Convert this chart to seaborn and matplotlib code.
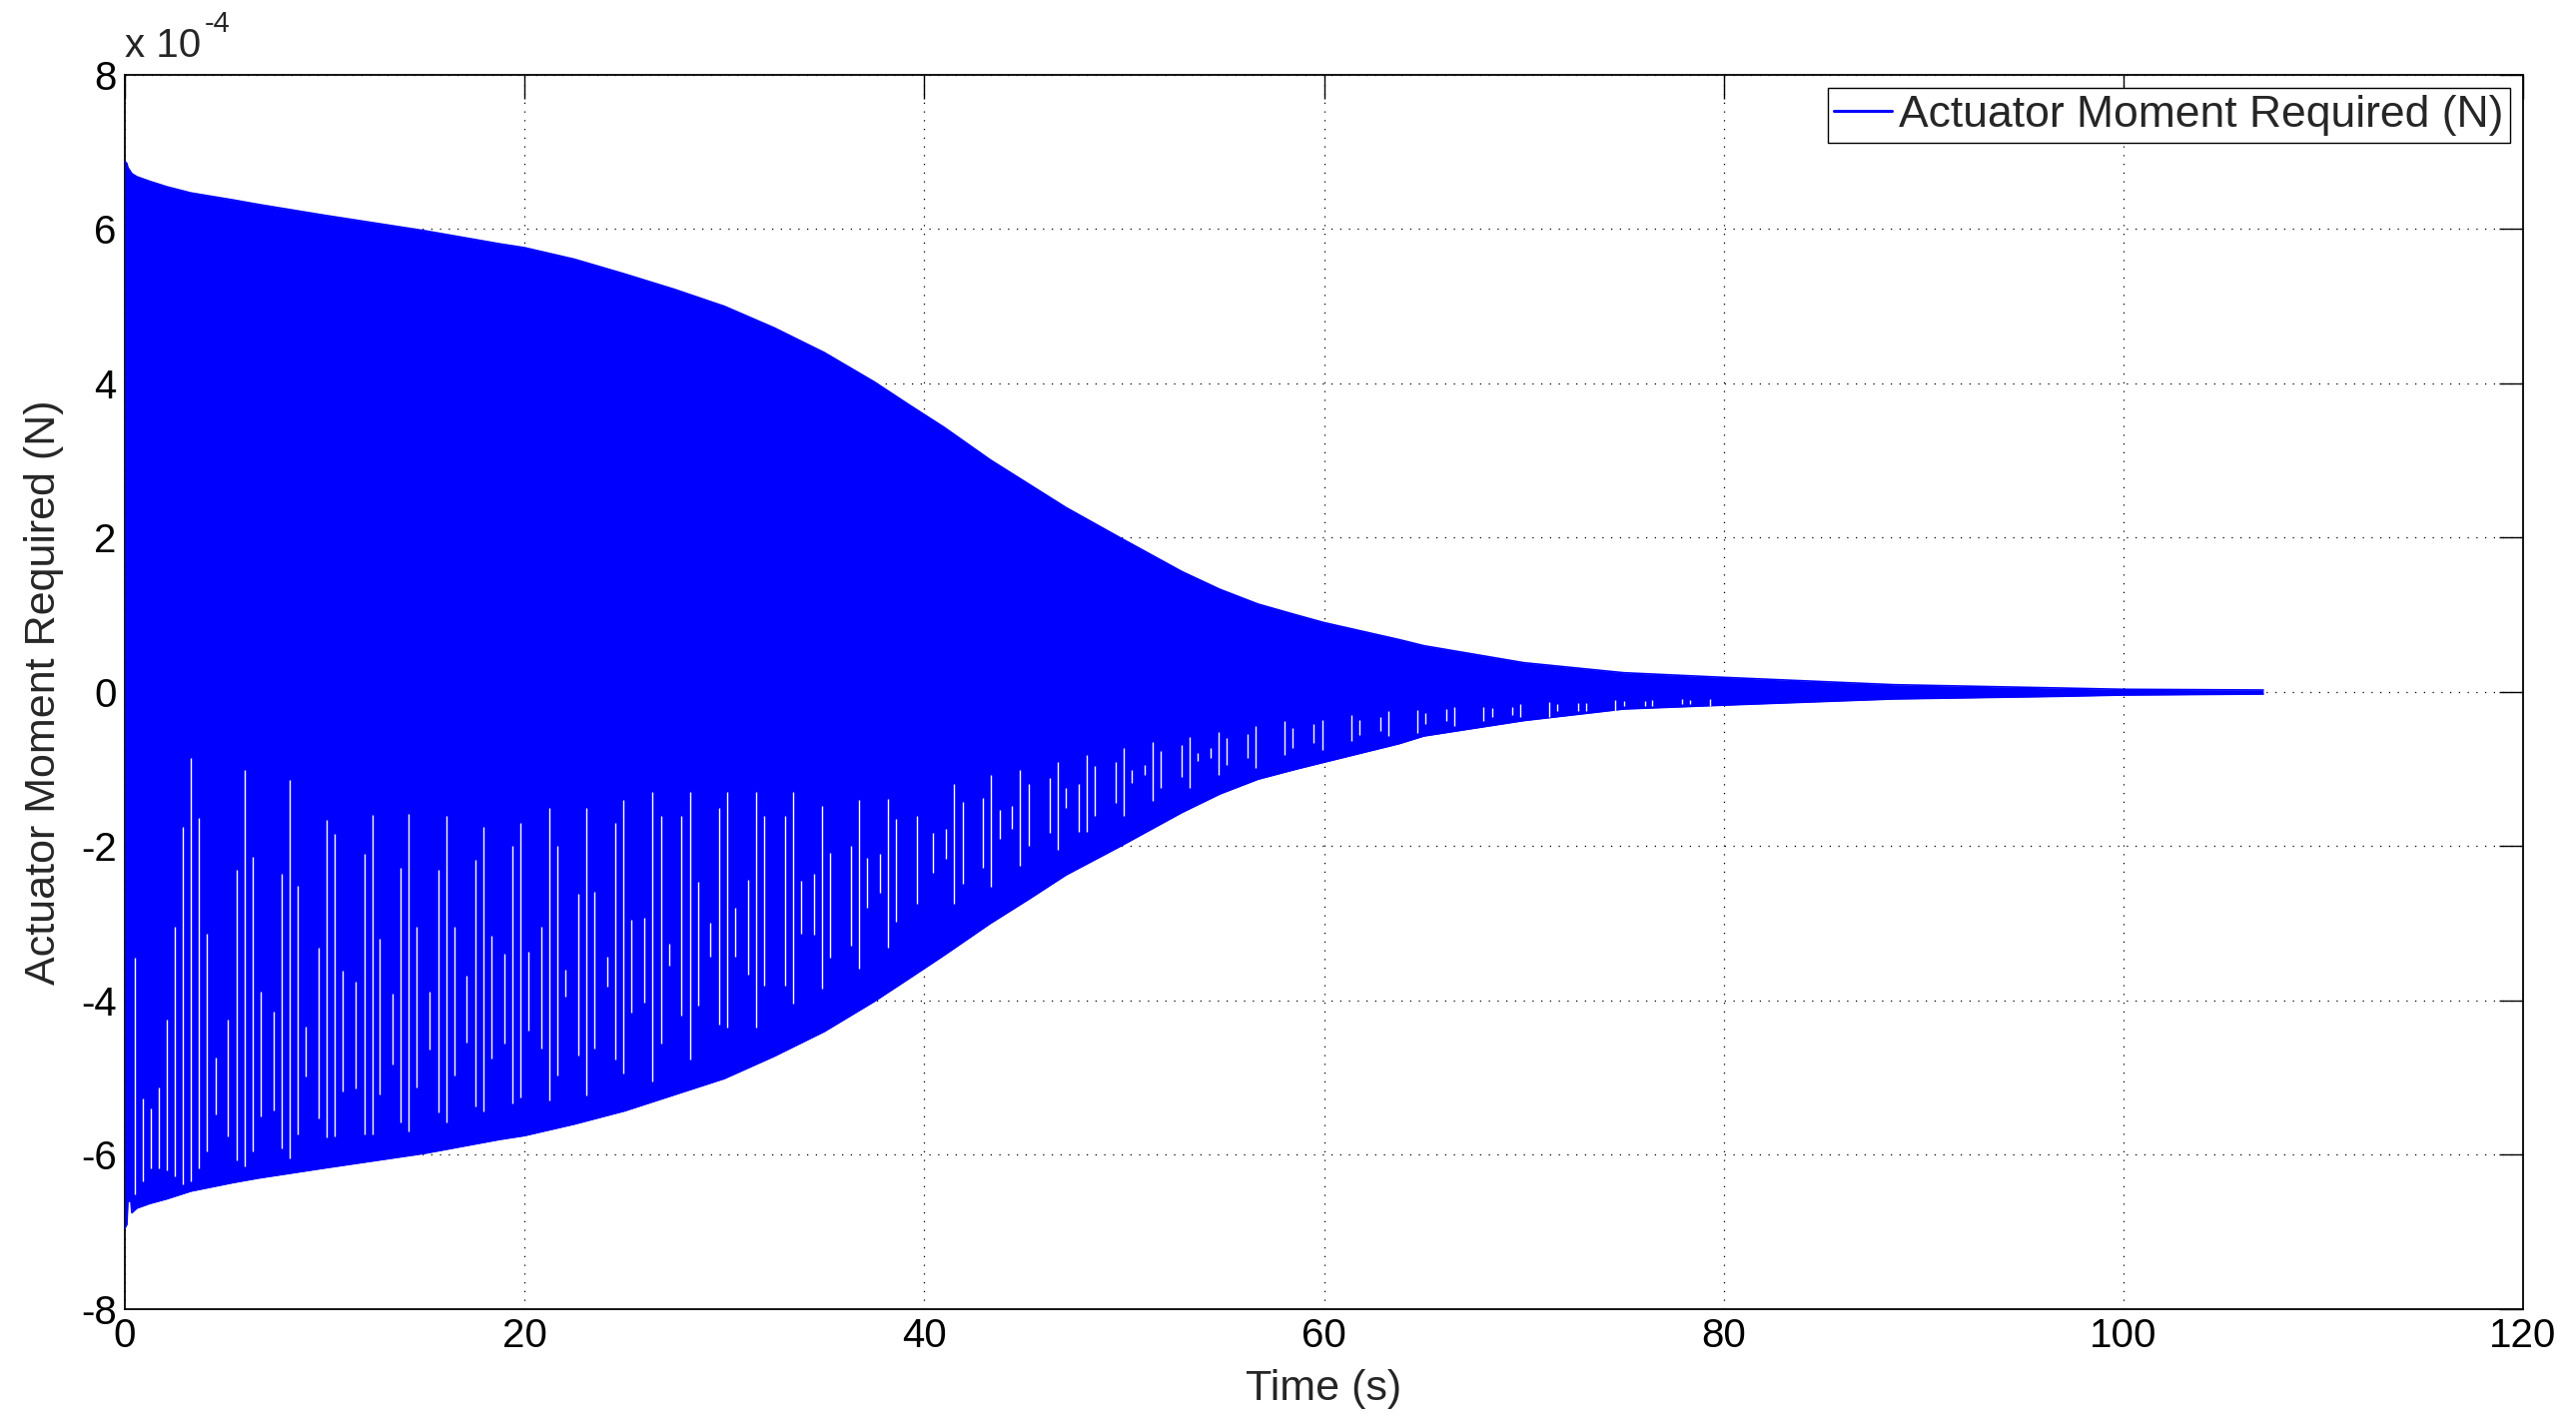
import numpy as np
import pandas as pd
import matplotlib
matplotlib.use("Agg")
import matplotlib.pyplot as plt
import seaborn as sns

#################################################################################
#  envelope of the actuator moment signal (values in units of 1e-4 N)
#################################################################################
time_s = [0, 0.1, 0.15, 0.3, 0.35, 0.6, 1.25, 2.1, 3.3, 5.4, 6.7, 10, 15,
          18.75, 20, 22.5, 25, 27.5, 30, 32.5, 35, 37.5, 39.2, 41, 43.3, 45.2,
          47.1, 49.8, 52.9, 54.8, 56.7, 58.6, 60, 63.75, 65, 70, 75, 80, 88.5,
          96.8, 100, 107]
upper_e4 = [6.88, 6.85, 6.80, 6.74, 6.72, 6.68, 6.62, 6.55, 6.47, 6.38, 6.32,
            6.18, 5.98, 5.81, 5.76, 5.61, 5.42, 5.22, 5.00, 4.72, 4.40, 4.02,
            3.73, 3.43, 3.01, 2.70, 2.39, 2.00, 1.56, 1.33, 1.14, 1.00, 0.90,
            0.68, 0.60, 0.38, 0.25, 0.19, 0.095, 0.052, 0.035, 0.026]
lower_e4 = [-6.95, -6.90, -6.60, -6.60, -6.75, -6.69, -6.63, -6.57, -6.47,
            -6.36, -6.30, -6.17, -5.98, -5.80, -5.75, -5.60, -5.43, -5.22,
            -5.01, -4.72, -4.40, -4.01, -3.72, -3.41, -3.00, -2.69, -2.37,
            -2.00, -1.56, -1.32, -1.13, -1.00, -0.91, -0.67, -0.57, -0.37,
            -0.22, -0.17, -0.09, -0.056, -0.039, -0.026]

#################################################################################
#  white gaps (aliasing) visible in the lower half: time, top, bottom
#################################################################################
gap_t = [0.5, 0.88, 1.3, 1.7, 2.1, 2.5, 2.9, 3.3, 3.72, 4.12, 4.53, 5.17, 5.58,
         5.98, 6.38, 6.8, 7.43, 7.83, 8.25, 8.65, 9.05, 9.7, 10.1, 10.5, 10.9,
         11.55, 11.97, 12.37, 12.73, 13.4, 13.8, 14.2, 14.6, 15.25, 15.67,
         16.1, 16.5, 17.1, 17.53, 17.93, 18.33, 18.98, 19.38, 19.8, 20.2,
         20.83, 21.25, 21.65, 22.05, 22.7, 23.1, 23.5, 24.13, 24.55, 24.95,
         25.35, 26.0, 26.4, 26.82, 27.22, 27.85, 28.27, 28.67, 29.3, 29.72,
         30.12, 30.53, 31.17, 31.57, 31.98, 33.02, 33.43, 33.83, 34.48, 34.9,
         35.28, 36.33, 36.74, 37.14, 37.77, 38.19, 38.59, 39.64, 40.45, 41.1,
         41.5, 41.92, 42.93, 43.35, 43.76, 44.4, 44.8, 45.23, 46.28, 46.68,
         47.09, 47.74, 48.14, 48.54, 49.6, 50.0, 50.4, 51.05, 51.45, 51.85,
         52.88, 53.29, 53.7, 54.34, 54.75, 55.15, 56.2, 56.6, 58.05, 58.45,
         59.5, 59.9, 61.35, 61.75, 62.8, 63.2, 64.67, 65.07, 66.1, 66.5,
         67.98, 68.4, 69.4, 69.8, 71.27, 71.67, 72.7, 73.13, 74.58, 75.0,
         76.05, 76.43, 77.9, 78.3, 79.33]
gap_top = [-3.44, -5.27, -5.40, -5.12, -4.24, -3.04, -1.75, -0.86, -1.63, -3.13,
           -4.74, -4.24, -2.31, -1.01, -2.13, -3.88, -4.14, -2.35, -1.14, -2.51,
           -4.34, -3.31, -1.66, -1.84, -3.61, -3.76, -2.10, -1.59, -3.20, -3.91,
           -2.28, -1.58, -3.04, -3.88, -2.31, -1.61, -3.04, -3.67, -2.18, -1.75,
           -3.16, -3.39, -2.00, -1.70, -3.37, -3.04, -1.50, -2.00, -3.60, -2.61,
           -1.50, -2.59, -3.43, -1.70, -1.40, -2.95, -2.93, -1.30, -1.60, -3.26,
           -1.60, -1.30, -2.46, -2.99, -1.50, -1.30, -2.79, -2.44, -1.30, -1.60,
           -1.60, -1.30, -2.45, -2.35, -1.47, -2.08, -1.99, -1.40, -2.15, -2.10,
           -1.39, -1.64, -1.61, -1.82, -1.78, -1.19, -1.42, -1.37, -1.08, -1.53,
           -1.48, -1.01, -1.19, -1.11, -0.90, -1.24, -1.19, -0.81, -0.96, -0.90,
           -0.72, -1.01, -0.95, -0.65, -0.77, -0.69, -0.58, -0.79, -0.73, -0.52,
           -0.59, -0.55, -0.44, -0.37, -0.46, -0.42, -0.36, -0.30, -0.36, -0.32,
           -0.25, -0.23, -0.27, -0.22, -0.19, -0.19, -0.21, -0.19, -0.15, -0.13,
           -0.16, -0.14, -0.14, -0.11, -0.12, -0.12, -0.11, -0.09, -0.10, -0.09]
gap_bot = [-6.51, -6.34, -6.17, -6.17, -6.20, -6.28, -6.38, -6.34, -6.18, -5.95,
           -5.48, -5.76, -6.07, -6.15, -5.95, -5.50, -5.43, -5.91, -6.05, -5.74,
           -4.99, -5.53, -5.77, -5.76, -5.18, -5.14, -5.74, -5.74, -5.22, -4.83,
           -5.58, -5.69, -5.12, -4.63, -5.45, -5.58, -4.97, -4.55, -5.37, -5.44,
           -4.75, -4.56, -5.33, -5.25, -4.39, -4.62, -5.29, -4.97, -3.95, -4.71,
           -5.23, -4.62, -3.82, -4.77, -4.94, -4.16, -4.03, -5.05, -4.56, -3.55,
           -4.20, -4.77, -4.06, -3.43, -4.31, -4.35, -3.43, -3.66, -4.35, -3.81,
           -3.81, -4.04, -3.13, -3.15, -3.84, -3.44, -3.29, -3.58, -2.79, -2.60,
           -3.32, -2.98, -2.75, -2.34, -2.16, -2.75, -2.48, -2.28, -2.52, -1.90,
           -1.77, -2.25, -2.00, -1.83, -2.04, -1.50, -1.81, -1.81, -1.60, -1.44,
           -1.60, -1.18, -1.08, -1.41, -1.24, -1.10, -1.24, -0.89, -0.85, -1.08,
           -0.95, -0.85, -0.98, -0.82, -0.72, -0.66, -0.75, -0.63, -0.56, -0.50,
           -0.57, -0.53, -0.42, -0.37, -0.44, -0.37, -0.32, -0.30, -0.33, -0.32,
           -0.25, -0.24, -0.25, -0.25, -0.18, -0.18, -0.18, -0.16, -0.15, -0.18]

x_ticks = [0, 20, 40, 60, 80, 100, 120]
y_ticks = [-8, -6, -4, -2, 0, 2, 4, 6, 8]

sns.set_style("white")
plt.rcParams['font.family'] = ['Liberation Sans', 'DejaVu Sans']
plt.rcParams['axes.unicode_minus'] = False

fig = plt.figure(figsize=(25.79, 14.26), dpi=100)
ax = fig.add_axes([0.04847, 0.08065, 0.93098, 0.86676])

df = pd.DataFrame({"Time": time_s, "Upper": upper_e4, "Lower": lower_e4})

ax.fill_between(df["Time"], df["Lower"], df["Upper"], color="#0000ff", lw=0, zorder=3)
sns.lineplot(data=df, x="Time", y="Upper", color="#0000ff", lw=1.2, ax=ax,
             estimator=None, label="Actuator Moment Required (N)", zorder=3)
sns.lineplot(data=df, x="Time", y="Lower", color="#0000ff", lw=1.2, ax=ax,
             estimator=None, legend=False, zorder=3)
ax.vlines(gap_t, gap_bot, gap_top, color="white", lw=1.0, zorder=4)

ax.set_xlim(0, 120)
ax.set_ylim(-8, 8)
ax.set_xticks(x_ticks)
ax.set_yticks(y_ticks)
ax.set_axisbelow(True)
ax.grid(True, color="black", linestyle=(0, (1, 6)), lw=0.9)
ax.tick_params(direction="in", length=17, width=1, top=True, right=True,
               labelsize=29, pad=6, colors="black")
for s in ax.spines.values():
    s.set_color("black")
    s.set_linewidth(1.3)

ax.set_xlabel("Time (s)", fontsize=31, labelpad=10)
ax.set_ylabel("Actuator Moment Required (N)", fontsize=31, labelpad=12)

ax.text(0, 1.008, "x 10", transform=ax.transAxes, fontsize=29, ha="left", va="bottom")
ax.text(0.0333, 1.03, "-4", transform=ax.transAxes, fontsize=21, ha="left", va="bottom")

leg = ax.legend(loc="upper right", fontsize=32, frameon=True, fancybox=False,
                edgecolor="black", framealpha=1, borderpad=0.15, handlelength=1.3,
                handletextpad=0.15, borderaxespad=0.3)
leg.get_frame().set_linewidth(1.0)
for h in leg.get_lines():
    h.set_linewidth(2.2)

fig.savefig("out.png", dpi=100)
